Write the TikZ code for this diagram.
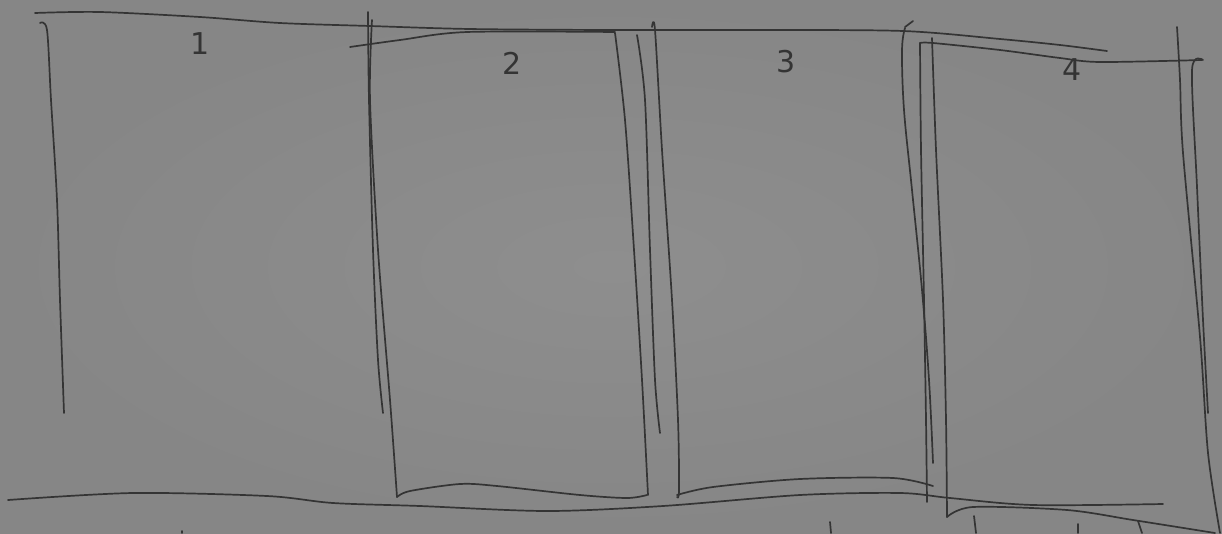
\documentclass[tikz,border=0pt]{standalone}
\usepackage{fontspec}
\setmainfont{DejaVu Sans}
\tikzset{
  pen/.style={draw=inkc, line width=1.7pt, line cap=round, line join=round},
  digit/.style={text=inkc, font=\fontsize{30}{30}\selectfont, inner sep=0pt}
}
\definecolor{paper}{RGB}{134,134,134}
\definecolor{paperlight}{RGB}{142,142,142}
\definecolor{inkc}{RGB}{52,52,52}
\begin{document}
\begin{tikzpicture}[x=1pt,y=-1pt]
\useasboundingbox (0,0) rectangle (1222,533);
\shade[inner color=paperlight, outer color=paper] (0,0) rectangle (1222,533);
% top long line
\draw[pen] plot[smooth, tension=0.5] coordinates {(35,13) (100,12) (200,17) (280,23) (370,26) (470,29) (610,30) (760,30) (903,31) (1000,39) (1060,45) (1107,51)};
% hook at top of box 3 right
\draw[pen] (913,21) -- (905,27);
% box 1 left
\draw[pen] plot[smooth, tension=0.5] coordinates {(40,23) (47,30) (51,100) (57,200) (60,300) (64,413)};
% separator 1/2 outer
\draw[pen] plot[smooth, tension=0.5] coordinates {(368,12) (369,100) (373,250) (378,360) (383,413)};
% box 2 left
\draw[pen] plot[smooth, tension=0.5] coordinates {(372,20) (370,100) (378,250) (390,400) (397,497)};
% box 2 top diagonal
\draw[pen] plot[smooth, tension=0.5] coordinates {(350,47) (400,40) (467,32) (615,32)};
% box 2 bottom
\draw[pen] plot[smooth, tension=0.5] coordinates {(397,497) (410,491) (460,484) (497,486) (580,495) (627,498) (647,495)};
% box 2 right
\draw[pen] plot[smooth, tension=0.5] coordinates {(615,33) (625,120) (634,250) (642,380) (648,495)};
% middle separator
\draw[pen] plot[smooth, tension=0.5] coordinates {(637,35) (645,100) (650,250) (655,380) (660,433)};
% box 3 left
\draw[pen] plot[smooth, tension=0.5] coordinates {(652,27) (655,30) (662,150) (672,300) (678,420) (679,490) (677,497)};
% box 3 bottom
\draw[pen] plot[smooth, tension=0.5] coordinates {(677,495) (713,487) (800,479) (893,478) (933,486)};
% box 3 right
\draw[pen] plot[smooth, tension=0.6] coordinates {(905,28) (902,50) (904,110) (912,190) (922,290) (929,380) (933,463)};
% second separator line
\draw[pen] plot[smooth, tension=0.5] coordinates {(920,43) (921,150) (924,300) (926,420) (927,502)};
% box 4 left
\draw[pen] plot[smooth, tension=0.5] coordinates {(932,38) (936,150) (943,300) (946,420) (947,517)};
% box 4 top
\draw[pen] plot[smooth, tension=0.5] coordinates {(920,43) (933,43) (1000,50) (1060,58) (1100,62) (1202,60)};
% box 4 bottom
\draw[pen] plot[smooth, tension=0.5] coordinates {(947,517) (973,507) (1067,510) (1133,520) (1215,533)};
% box 4 right outer
\draw[pen] plot[smooth, tension=0.5] coordinates {(1177,27) (1180,80) (1183,153) (1200,337) (1208,453) (1220,533)};
% box 4 right inner
\draw[pen] plot[smooth, tension=0.5] coordinates {(1203,60) (1192,70) (1197,187) (1203,320) (1208,413)};
% base line
\draw[pen] plot[smooth, tension=0.5] coordinates {(8,500) (133,493) (267,496) (333,503) (420,506) (547,511) (663,506) (800,495) (900,493) (950,498) (1033,505) (1163,504)};
% bottom ticks
\draw[pen] (182,531) -- (182,533);
\draw[pen] (830,522) -- (831,533);
\draw[pen] (974,516) -- (976,533);
\draw[pen] (1078,524) -- (1078,533);
\draw[pen] (1138,521) -- (1142,533);
% labels
\node[digit] (l1) at (200,44) {1};
\node[digit] (l2) at (512,63) {2};
\node[digit] (l3) at (786,62) {3};
\node[digit] (l4) at (1072,70) {4};
\end{tikzpicture}
\end{document}
